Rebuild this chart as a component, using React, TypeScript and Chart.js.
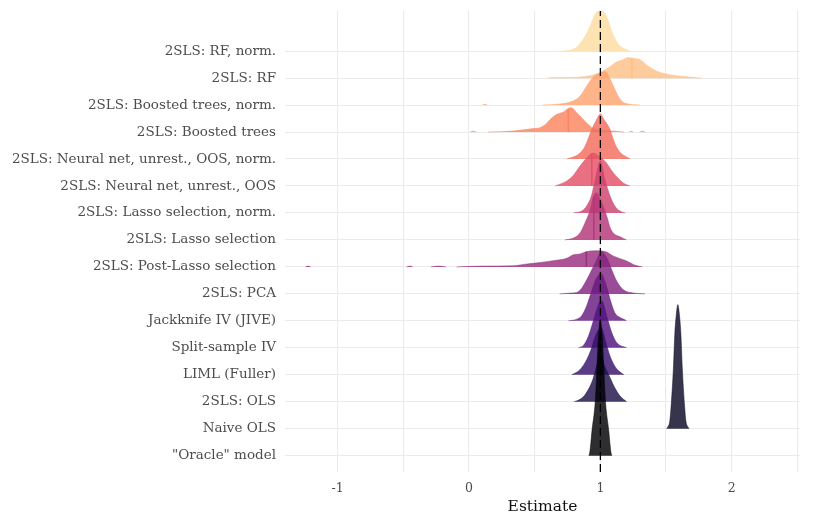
import React, { useEffect, useRef } from "react";
import { Chart, registerables } from "chart.js";

Chart.register(...registerables);

// Rows from bottom (index 0) to top
const CATEGORIES = [
  '"Oracle" model',
  "Naive OLS",
  "2SLS: OLS",
  "LIML (Fuller)",
  "Split-sample IV",
  "Jackknife IV (JIVE)",
  "2SLS: PCA",
  "2SLS: Post-Lasso selection",
  "2SLS: Lasso selection",
  "2SLS: Lasso selection, norm.",
  "2SLS: Neural net, unrest., OOS",
  "2SLS: Neural net, unrest., OOS, norm.",
  "2SLS: Boosted trees",
  "2SLS: Boosted trees, norm.",
  "2SLS: RF",
  "2SLS: RF, norm.",
];

const COLORS = [
  "#000004", "#0B0924", "#1E1149", "#36106B", "#51127C", "#681B81", "#822580", "#9A2E7F",
  "#B5367A", "#CD426F", "#E35066", "#F36B5D", "#FA855F", "#FEA26F", "#FEC087", "#FDDDA0",
];

type Pt = [number, number | null];

// Ridge densities: [estimate, scaled density height]; null = gap
const ORACLE: Pt[] = [
  [0.912, 0], [0.918, 0.09], [0.924, 0.3], [0.937, 0.97], [0.956, 1.71], [0.962, 2.08], [0.972, 3.05],
  [0.981, 4.05], [0.989, 4.64], [1.0, 5.05], [1.011, 4.64], [1.019, 4.05], [1.028, 3.05], [1.038, 2.08],
  [1.044, 1.71], [1.063, 0.97], [1.076, 0.3], [1.082, 0.09], [1.088, 0],
];
const NAIVE_OLS: Pt[] = [
  [1.504, 0], [1.514, 0.074], [1.529, 0.3], [1.54, 0.93], [1.556, 2.23], [1.567, 3.53], [1.579, 4.27],
  [1.59, 4.6], [1.601, 4.27], [1.613, 3.53], [1.624, 2.23], [1.64, 0.93], [1.651, 0.3], [1.666, 0.074], [1.676, 0],
];
const TSLS_OLS: Pt[] = [
  [0.8, 0], [0.845, 0.09], [0.883, 0.26], [0.922, 0.58], [0.947, 0.89], [0.98, 1.5], [1.0, 1.93],
  [1.02, 1.5], [1.074, 0.89], [1.11, 0.52], [1.15, 0.21], [1.2, 0],
];
const LIML: Pt[] = [
  [0.782, 0], [0.845, 0.19], [0.896, 0.56], [0.934, 1.0], [0.96, 1.41], [1.005, 1.75], [1.049, 1.08],
  [1.074, 0.69], [1.11, 0.32], [1.15, 0.1], [1.18, 0],
];
const SPLIT_SAMPLE: Pt[] = [
  [0.833, 0], [0.871, 0.09], [0.909, 0.43], [0.934, 0.8], [0.96, 1.22], [0.985, 1.6], [1.01, 1.75],
  [1.05, 1.15], [1.087, 0.56], [1.125, 0.19], [1.2, 0],
];
const JACKKNIFE: Pt[] = [
  [0.756, 0], [0.82, 0.06], [0.858, 0.19], [0.896, 0.56], [0.922, 0.93], [0.947, 1.3], [0.972, 1.6],
  [1.005, 1.75], [1.04, 1.4], [1.074, 0.8], [1.11, 0.3], [1.15, 0.12], [1.19, 0.03], [1.2, 0],
];
const PCA: Pt[] = [
  [0.69, 0], [0.78, 0.03], [0.82, 0.05], [0.858, 0.21], [0.896, 0.52], [0.934, 0.89], [0.96, 1.14],
  [1.01, 1.56], [1.05, 1.34], [1.087, 0.89], [1.125, 0.47], [1.175, 0.15], [1.25, 0.03], [1.34, 0],
];
const POST_LASSO: Pt[] = [
  [-1.245, 0], [-1.225, 0.03], [-1.205, 0], [-1.2, null],
  [-0.475, 0], [-0.45, 0.03], [-0.43, 0], [-0.4, null],
  [-0.29, 0], [-0.23, 0.03], [-0.175, 0], [-0.15, null],
  [-0.094, 0], [0.1, 0.03], [0.335, 0.04], [0.44, 0.11], [0.54, 0.16], [0.64, 0.23], [0.744, 0.32],
  [0.795, 0.45], [0.845, 0.48], [0.896, 0.57], [0.96, 0.6], [1.036, 0.57], [1.1, 0.4], [1.2, 0.22],
  [1.26, 0.07], [1.32, 0],
];
const LASSO: Pt[] = [
  [0.73, 0], [0.795, 0.07], [0.845, 0.26], [0.883, 0.63], [0.922, 1.11], [0.947, 1.6], [0.97, 1.75],
  [1.0, 1.5], [1.049, 0.88], [1.075, 0.45], [1.1, 0.25], [1.15, 0.12], [1.2, 0],
];
const LASSO_NORM: Pt[] = [
  [0.795, 0], [0.87, 0.11], [0.909, 0.37], [0.934, 0.67], [0.96, 1.22], [1.0, 1.93], [1.036, 1.22],
  [1.074, 0.63], [1.11, 0.26], [1.15, 0.07], [1.19, 0],
];
const NN_OOS: Pt[] = [
  [0.655, 0], [0.745, 0.19], [0.795, 0.4], [0.845, 0.74], [0.896, 1.04], [0.94, 1.22], [0.99, 1.11],
  [1.04, 0.89], [1.1, 0.48], [1.175, 0.11], [1.226, 0],
];
const NN_OOS_NORM: Pt[] = [
  [0.744, 0], [0.807, 0.1], [0.845, 0.22], [0.883, 0.47], [0.909, 0.78], [0.934, 1.1], [0.97, 1.45],
  [1.0, 1.67], [1.03, 1.45], [1.074, 1.1], [1.095, 0.78], [1.12, 0.47], [1.155, 0.22], [1.19, 0.1], [1.23, 0],
];
const BOOSTED: Pt[] = [
  [0.01, 0], [0.03, 0.03], [0.055, 0], [0.08, null],
  [0.145, 0], [0.335, 0.04], [0.49, 0.13], [0.54, 0.16], [0.59, 0.32], [0.617, 0.47], [0.668, 0.66],
  [0.718, 0.74], [0.77, 0.9], [0.78, 0.9], [0.82, 0.72], [0.858, 0.53], [0.896, 0.34], [0.96, 0.1],
  [1.1, 0.04], [1.18, 0], [1.2, null],
  [1.22, 0], [1.235, 0.03], [1.25, 0], [1.27, null],
  [1.3, 0], [1.32, 0.03], [1.34, 0],
];
const BOOSTED_NORM: Pt[] = [
  [0.1, 0], [0.12, 0.03], [0.14, 0], [0.2, null],
  [0.56, 0], [0.69, 0.04], [0.79, 0.15], [0.845, 0.33], [0.896, 0.71], [0.947, 1.04], [0.998, 1.19],
  [1.036, 1.26], [1.074, 0.97], [1.11, 0.59], [1.15, 0.22], [1.19, 0.07], [1.3, 0],
];
const RF: Pt[] = [
  [0.6, 0], [0.63, 0.02], [0.7, 0.02], [0.85, 0.04], [0.92, 0.09], [0.99, 0.19], [1.075, 0.43],
  [1.11, 0.56], [1.163, 0.67], [1.21, 0.76], [1.25, 0.74], [1.3, 0.69], [1.36, 0.46], [1.45, 0.22],
  [1.55, 0.11], [1.68, 0.04], [1.775, 0],
];
const RF_NORM: Pt[] = [
  [0.69, 0], [0.794, 0.07], [0.871, 0.45], [0.922, 0.93], [0.96, 1.37], [1.005, 1.52], [1.049, 1.26],
  [1.087, 0.74], [1.137, 0.26], [1.226, 0],
];

const RIDGES: Pt[][] = [
  ORACLE, NAIVE_OLS, TSLS_OLS, LIML, SPLIT_SAMPLE, JACKKNIFE, PCA, POST_LASSO,
  LASSO, LASSO_NORM, NN_OOS, NN_OOS_NORM, BOOSTED, BOOSTED_NORM, RF, RF_NORM,
];

// Visible median (quantile) lines
const MEDIAN_ROWS = [14, 12, 10, 8, 7];
const MEDIAN_VALUES = [1.24, 0.756, 0.935, 0.95, 0.893];

const X_TICKS = [-1, -0.5, 0, 0.5, 1, 1.5, 2, 2.5];
const X_MIN = -1.401;
const X_MAX = 2.52;
const Y_MIN = -0.605;
const Y_MAX = 16.49;
const TRUE_VALUE = 1;

function rgba(hex: string, a: number) {
  const r = parseInt(hex.slice(1, 3), 16);
  const g = parseInt(hex.slice(3, 5), 16);
  const b = parseInt(hex.slice(5, 7), 16);
  return `rgba(${r},${g},${b},${a})`;
}

function heightAt(pts: Pt[], x: number) {
  for (let i = 0; i < pts.length - 1; i++) {
    const [x0, y0] = pts[i];
    const [x1, y1] = pts[i + 1];
    if (y0 === null || y1 === null) continue;
    if (x >= x0 && x <= x1) return y0 + ((y1 - y0) * (x - x0)) / (x1 - x0);
  }
  return 0;
}

export default function App() {
  const ref = useRef<HTMLCanvasElement | null>(null);
  useEffect(() => {
    if (!ref.current) return;
    const FONT = "'DejaVu Serif', serif";
    const datasets: any[] = [];
    RIDGES.forEach((pts, i) => {
      datasets.push({
        type: "line",
        label: CATEGORIES[i],
        data: pts.map(([x, h]) => ({ x, y: h === null ? null : i + h })),
        fill: { value: i },
        backgroundColor: rgba(COLORS[i], 0.82),
        borderColor: rgba(COLORS[i], 0.82),
        borderWidth: 0.6,
        pointRadius: 0,
        cubicInterpolationMode: "monotone",
        spanGaps: false,
        order: 2 * i + 1,
      });
    });
    MEDIAN_ROWS.forEach((row, k) => {
      const m = MEDIAN_VALUES[k];
      datasets.push({
        type: "line",
        label: "median " + CATEGORIES[row],
        data: [
          { x: m, y: row },
          { x: m, y: row + heightAt(RIDGES[row], m) },
        ],
        fill: false,
        borderColor: rgba(COLORS[row], 0.9),
        borderWidth: 1.6,
        pointRadius: 0,
        order: 2 * row,
      });
    });
    datasets.push({
      type: "line",
      label: "true",
      data: [
        { x: TRUE_VALUE, y: Y_MIN },
        { x: TRUE_VALUE, y: Y_MAX },
      ],
      fill: false,
      borderColor: "#000000",
      borderWidth: 1.3,
      borderDash: [8, 4],
      pointRadius: 0,
      order: -1,
    });

    const chart = new Chart(ref.current, {
      type: "line",
      data: { datasets },
      options: {
        animation: false,
        responsive: false,
        events: [],
        layout: { padding: { top: 11, right: 13, left: 0, bottom: 0 } },
        plugins: { legend: { display: false }, tooltip: { enabled: false } },
        scales: {
          x: {
            type: "linear",
            min: X_MIN,
            max: X_MAX,
            border: { display: false },
            grid: { color: "#ebebeb", lineWidth: 1.1, drawTicks: false },
            afterBuildTicks: (s: any) => {
              s.ticks = X_TICKS.map((v) => ({ value: v }));
            },
            afterFit: (s: any) => {
              s.height = 41;
              s.paddingLeft = 0;
              s.paddingRight = 0;
            },
            ticks: {
              padding: 9,
              color: "#4d4d4d",
              font: { family: FONT, size: 12.5 },
              autoSkip: false,
              maxRotation: 0,
              callback: (v: any) => (Number.isInteger(v) ? String(v) : ""),
            },
            title: {
              display: true,
              text: "Estimate",
              color: "#111111",
              font: { family: FONT, size: 15.5 },
              padding: { top: 0, bottom: -3 },
            },
          },
          y: {
            type: "linear",
            min: Y_MIN,
            max: Y_MAX,
            border: { display: false },
            grid: { color: "#ebebeb", lineWidth: 1.1, drawTicks: false },
            afterBuildTicks: (s: any) => {
              s.ticks = CATEGORIES.map((_, i) => ({ value: i }));
            },
            afterFit: (s: any) => {
              s.width = 285;
              s.paddingTop = 0;
              s.paddingBottom = 0;
            },
            ticks: {
              padding: 9,
              color: "#4d4d4d",
              font: { family: FONT, size: 13.5 },
              autoSkip: false,
              callback: (v: any) => CATEGORIES[v] ?? "",
            },
          },
        },
      },
    });
    return () => chart.destroy();
  }, []);
  return (
    <div style={{ position: "absolute", left: 0, top: 0, width: 813, height: 513, background: "#fff" }}>
      <canvas ref={ref} width={813} height={513} style={{ display: "block" }} />
    </div>
  );
}
